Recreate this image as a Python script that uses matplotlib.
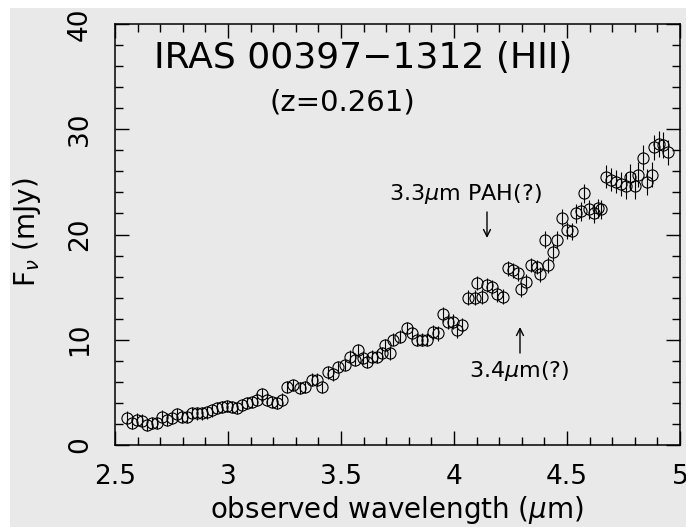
import matplotlib
matplotlib.use("Agg")
import matplotlib.pyplot as plt
from matplotlib.patches import Rectangle
from matplotlib.ticker import MultipleLocator, FuncFormatter

# observed wavelength (micron) and flux (mJy)
wavelength = [
    2.553, 2.575, 2.597, 2.619, 2.642, 2.664, 2.686, 2.708, 2.730, 2.752,
    2.774, 2.796, 2.819, 2.841, 2.863, 2.885, 2.907, 2.929, 2.951, 2.973,
    2.996, 3.018, 3.040, 3.062, 3.084, 3.106, 3.128, 3.150, 3.173, 3.195,
    3.217, 3.239, 3.261, 3.288, 3.319, 3.341, 3.372, 3.394, 3.416, 3.442,
    3.465, 3.487, 3.518, 3.540, 3.562, 3.575, 3.597, 3.615, 3.637, 3.659,
    3.681, 3.695, 3.717, 3.730, 3.761, 3.792, 3.814, 3.836, 3.858, 3.881,
    3.907, 3.929, 3.951, 3.973, 3.996, 4.013, 4.035, 4.062, 4.093, 4.102,
    4.124, 4.146, 4.168, 4.190, 4.217, 4.239, 4.261, 4.281, 4.296, 4.319,
    4.341, 4.367, 4.381, 4.403, 4.416, 4.438, 4.456, 4.478, 4.500, 4.522,
    4.540, 4.562, 4.575, 4.597, 4.619, 4.637, 4.650, 4.673, 4.695, 4.717,
    4.739, 4.761, 4.779, 4.801, 4.814, 4.836, 4.854, 4.876, 4.885, 4.907,
    4.925, 4.945,
]
flux = [
    2.6, 2.1, 2.4, 2.3, 1.9, 2.1, 2.1, 2.7, 2.4, 2.6,
    2.9, 2.7, 2.7, 3.0, 3.0, 3.0, 3.1, 3.3, 3.5, 3.6,
    3.7, 3.6, 3.5, 3.8, 4.0, 4.1, 4.3, 4.8, 4.3, 4.1,
    4.0, 4.3, 5.5, 5.7, 5.4, 5.5, 6.2, 6.2, 5.5, 6.9,
    6.7, 7.4, 7.6, 8.4, 8.1, 9.0, 8.3, 7.9, 8.4, 8.4,
    8.7, 9.5, 8.7, 10.0, 10.3, 11.1, 10.6, 10.0, 10.0, 10.0,
    10.7, 10.6, 12.4, 11.7, 11.7, 10.9, 11.4, 14.0, 14.0, 15.4,
    14.1, 15.2, 15.0, 14.3, 14.1, 16.8, 16.6, 16.3, 14.8, 15.5,
    17.1, 16.9, 16.2, 19.5, 17.1, 18.3, 19.5, 21.6, 20.4, 20.3,
    22.0, 22.2, 23.9, 22.4, 22.0, 22.5, 22.4, 25.5, 25.2, 25.0,
    24.8, 24.6, 25.5, 24.6, 25.7, 27.3, 25.0, 25.7, 28.3, 28.6,
    28.5, 27.8,
]
flux_err = [
    0.6, 0.6, 0.6, 0.6, 0.6, 0.6, 0.6, 0.6, 0.6, 0.6,
    0.6, 0.6, 0.6, 0.6, 0.6, 0.6, 0.6, 0.6, 0.6, 0.6,
    0.6, 0.6, 0.6, 0.6, 0.6, 0.6, 0.6, 0.6, 0.6, 0.6,
    0.6, 0.6, 0.6, 0.6, 0.6, 0.6, 0.6, 0.6, 0.6, 0.6,
    0.6, 0.6, 0.6, 0.6, 0.6, 0.6, 0.6, 0.6, 0.6, 0.6,
    0.6, 0.6, 0.6, 0.6, 0.6, 0.6, 0.6, 0.6, 0.6, 0.6,
    0.7, 0.7, 0.7, 0.7, 0.7, 0.7, 0.7, 0.7, 0.7, 0.7,
    0.7, 0.7, 0.7, 0.7, 0.7, 0.7, 0.7, 0.7, 0.7, 0.7,
    0.7, 0.7, 0.7, 0.8, 0.8, 0.8, 0.8, 0.8, 0.8, 0.8,
    0.9, 0.9, 0.9, 0.9, 0.9, 0.9, 0.9, 1.1, 1.1, 1.1,
    1.1, 1.2, 1.2, 1.2, 1.2, 1.2, 1.2, 1.2, 1.2, 1.2,
    1.2, 1.2,
]

bg = "#e9e9e9"
W, H = 686, 527

fig = plt.figure(figsize=(W / 100, H / 100), dpi=100, facecolor="white")
fig.patches.append(Rectangle((10 / W, 0), 1, 1 - 8 / H, transform=fig.transFigure,
                             facecolor=bg, edgecolor="none", zorder=-10))

ax = fig.add_axes([115 / W, 1 - 445 / H, 565 / W, 421 / H])
ax.set_facecolor(bg)

ax.errorbar(wavelength, flux, yerr=flux_err, fmt="o", mfc="none", mec="black",
            ms=8, mew=0.8, ecolor="black", elinewidth=0.8, capsize=0)

ax.set_xlim(2.5, 5)
ax.set_ylim(0, 40)
ax.xaxis.set_major_locator(MultipleLocator(0.5))
ax.xaxis.set_minor_locator(MultipleLocator(0.1))
ax.yaxis.set_major_locator(MultipleLocator(10))
ax.yaxis.set_minor_locator(MultipleLocator(2))
ax.xaxis.set_major_formatter(FuncFormatter(lambda v, p: "%g" % v))

for s in ax.spines.values():
    s.set_linewidth(1.1)
ax.tick_params(which="both", direction="in", top=True, right=True, width=1)
ax.tick_params(which="major", length=10)
ax.tick_params(which="minor", length=5.5)
ax.tick_params(axis="x", labelsize=19, pad=14)
ax.tick_params(axis="y", labelsize=19, pad=16, labelrotation=90)
for lab in ax.get_yticklabels():
    lab.set_va("center")

# labels
fig.text(27 / W, 1 - 232 / H, r"F$_\nu$ (mJy)", rotation=90, fontsize=20,
         ha="center", va="center")
fig.text(397 / W, 1 - 510 / H, r"observed wavelength ($\mu$m)", fontsize=20,
         ha="center", va="center")

# annotations
ax.text(3.60, 36.8, "IRAS 00397\u22121312 (HII)", fontsize=26, ha="center", va="center")
ax.text(3.507, 32.5, "(z=0.261)", fontsize=21, ha="center", va="center")
ax.text(4.051, 23.85, r"3.3$\mu$m PAH(?)", fontsize=16, ha="center", va="center")
ax.text(4.288, 7.0, r"3.4$\mu$m(?)", fontsize=16, ha="center", va="center")

arrow = dict(arrowstyle="->,head_length=0.5,head_width=0.25", lw=1, color="black",
             shrinkA=0, shrinkB=0)
ax.annotate("", xy=(4.146, 19.67), xytext=(4.146, 22.14), arrowprops=arrow)
ax.annotate("", xy=(4.292, 11.21), xytext=(4.292, 8.74), arrowprops=arrow)

plt.savefig("out.png", dpi=100, facecolor=fig.get_facecolor())
